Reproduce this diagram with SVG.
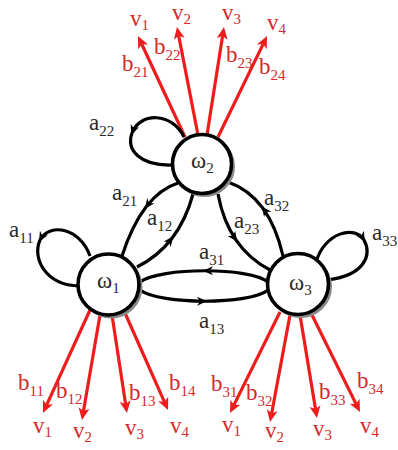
<svg xmlns="http://www.w3.org/2000/svg" xmlns:xlink="http://www.w3.org/1999/xlink" width="398" height="450" viewBox="0 0 398 450" font-family="'Liberation Serif','DejaVu Serif',serif">
<style>
.e{fill:none;stroke:#000;stroke-width:3.2}
.r{fill:none;stroke:#ee1c1c;stroke-width:3.2;marker-end:url(#ra)}
.nd{fill:#fff;stroke:#000;stroke-width:3.6}
.sh{fill:none;stroke:#8a8a8a;stroke-width:3}
text{font-family:'Liberation Serif','DejaVu Serif',serif;font-size:23px}
.lb{fill:#2a2a2a}
.rl{fill:#d42a2a}
.s{font-size:15px}
</style>
<defs>
<path id="ah" d="M2,0 L-8,-4.5 L-5,0 L-8,4.5 Z" fill="#000"/>
<marker id="ra" markerUnits="userSpaceOnUse" markerWidth="16" markerHeight="14" viewBox="-1 -7 16 14" refX="3" refY="0" orient="auto">
<path d="M0,-5.5 L12,0 L0,5.5 L3,0 Z" fill="#ee1c1c"/>
</marker>
</defs>
<rect width="398" height="450" fill="#fff"/>
<g id="outputs">
<line class="r" x1="185" y1="137" x2="141.8" y2="44.2"/>
<line class="r" x1="198" y1="135" x2="178.7" y2="35.8"/>
<line class="r" x1="207" y1="135" x2="222.6" y2="35.9"/>
<line class="r" x1="218" y1="137" x2="263.1" y2="44.1"/>
<line class="r" x1="90" y1="310" x2="46.7" y2="404.8"/>
<line class="r" x1="100" y1="315" x2="83.5" y2="411.1"/>
<line class="r" x1="112" y1="315" x2="125.6" y2="404.1"/>
<line class="r" x1="125" y1="313" x2="164.4" y2="401.8"/>
<line class="r" x1="280" y1="312" x2="234" y2="404.9"/>
<line class="r" x1="290" y1="315" x2="271.7" y2="413.2"/>
<line class="r" x1="300" y1="315" x2="315.5" y2="409.1"/>
<line class="r" x1="312" y1="315" x2="356" y2="403.9"/>
<g class="rl">
<text x="130" y="26">v<tspan class="s" dy="4">1</tspan></text>
<text x="172" y="20">v<tspan class="s" dy="4">2</tspan></text>
<text x="222" y="20">v<tspan class="s" dy="4">3</tspan></text>
<text x="267" y="30">v<tspan class="s" dy="4">4</tspan></text>
<text x="122" y="71">b<tspan class="s" dy="6">21</tspan></text>
<text x="154" y="54">b<tspan class="s" dy="6">22</tspan></text>
<text x="226" y="62">b<tspan class="s" dy="6">23</tspan></text>
<text x="259" y="74">b<tspan class="s" dy="6">24</tspan></text>
<text x="18" y="390">b<tspan class="s" dy="6">11</tspan></text>
<text x="56" y="398">b<tspan class="s" dy="6">12</tspan></text>
<text x="129" y="400">b<tspan class="s" dy="6">13</tspan></text>
<text x="169" y="390">b<tspan class="s" dy="6">14</tspan></text>
<text x="211" y="391">b<tspan class="s" dy="6">31</tspan></text>
<text x="246" y="400">b<tspan class="s" dy="6">32</tspan></text>
<text x="319" y="399">b<tspan class="s" dy="6">33</tspan></text>
<text x="357" y="388">b<tspan class="s" dy="6">34</tspan></text>
<text x="33" y="433">v<tspan class="s" dy="4">1</tspan></text>
<text x="73" y="438">v<tspan class="s" dy="4">2</tspan></text>
<text x="125" y="435">v<tspan class="s" dy="4">3</tspan></text>
<text x="170" y="433">v<tspan class="s" dy="4">4</tspan></text>
<text x="222" y="432">v<tspan class="s" dy="4">1</tspan></text>
<text x="265" y="438">v<tspan class="s" dy="4">2</tspan></text>
<text x="313" y="436">v<tspan class="s" dy="4">3</tspan></text>
<text x="360" y="433">v<tspan class="s" dy="4">4</tspan></text>
</g>
</g>
<g id="connectors">
<path class="e" d="M184,137 C172,112 140,112 132,133 C126,150 140,166 172,165"/>
<use xlink:href="#ah" transform="translate(132,133) rotate(111)"/>
<path class="e" d="M90,256 C80,228 50,222 40,240 C32,258 45,285 79,286"/>
<use xlink:href="#ah" transform="translate(40,240) rotate(119)"/>
<path class="e" d="M316,262 C325,232 355,225 364,240 C372,255 365,275 328,280"/>
<use xlink:href="#ah" transform="translate(364,240) rotate(59)"/>
<path class="e" d="M178,183 Q142,194.5 122,256"/>
<use xlink:href="#ah" transform="translate(146,207) rotate(127.5)"/>
<path class="e" d="M137,267 Q179,246 193,194"/>
<use xlink:href="#ah" transform="translate(172,238) rotate(-52.5)"/>
<path class="e" d="M218,194 Q228,248 270,270"/>
<use xlink:href="#ah" transform="translate(236,240) rotate(55.6)"/>
<path class="e" d="M283,256 Q269.5,196.5 228,182"/>
<use xlink:href="#ah" transform="translate(263,208) rotate(-126)"/>
<path class="e" d="M268,282 C250,267 160,267 140,282"/>
<use xlink:href="#ah" transform="translate(205,270.8) rotate(180)"/>
<path class="e" d="M140,290 C160,305 250,305 268,290"/>
<use xlink:href="#ah" transform="translate(205,301.2)"/>
<g class="lb">
<text x="89" y="130">a<tspan class="s" dy="6">22</tspan></text>
<text x="9" y="237">a<tspan class="s" dy="6">11</tspan></text>
<text x="372" y="240">a<tspan class="s" dy="6">33</tspan></text>
<text x="112" y="200">a<tspan class="s" dy="6">21</tspan></text>
<text x="147" y="225">a<tspan class="s" dy="6">12</tspan></text>
<text x="264" y="205">a<tspan class="s" dy="6">32</tspan></text>
<text x="234" y="228">a<tspan class="s" dy="6">23</tspan></text>
<text x="199" y="259">a<tspan class="s" dy="6">31</tspan></text>
<text x="199" y="328">a<tspan class="s" dy="6">13</tspan></text>
</g>
</g>
<g id="w2">
<circle class="sh" cx="204.5" cy="166.5" r="29"/>
<circle class="nd" cx="202" cy="164" r="29.5"/>
<text class="lb" x="191" y="168">ω<tspan class="s" dy="5">2</tspan></text>
</g>
<g id="w1">
<circle class="sh" cx="111" cy="287" r="30"/>
<circle class="nd" cx="108.5" cy="284.5" r="30.5"/>
<text class="lb" x="97" y="288">ω<tspan class="s" dy="5">1</tspan></text>
</g>
<g id="w3">
<circle class="sh" cx="300.5" cy="286.5" r="30"/>
<circle class="nd" cx="298" cy="284" r="30.5"/>
<text class="lb" x="289" y="290">ω<tspan class="s" dy="5">3</tspan></text>
</g>
</svg>
